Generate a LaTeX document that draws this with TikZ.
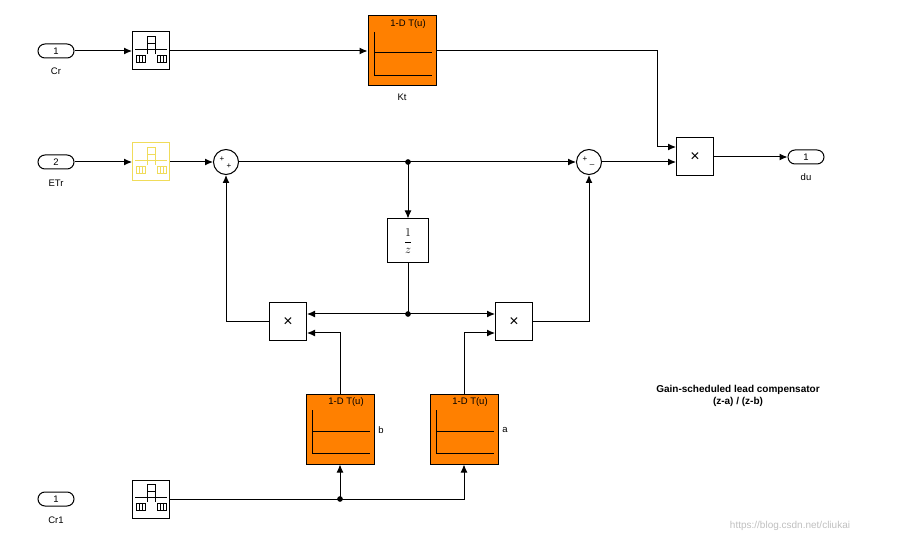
\documentclass[tikz,border=0pt]{standalone}
\usepackage{fontspec}
\setmainfont{Liberation Sans}
\usetikzlibrary{arrows.meta,calc}
\definecolor{lut}{RGB}{255,128,0}
\definecolor{yel}{RGB}{240,220,90}
\begin{document}
\begin{tikzpicture}[x=1pt,y=-1pt,font=\fontsize{9.5}{11}\selectfont,
  line width=1pt,
  sig/.style={-{Latex[length=8pt,width=7pt]}},
  port/.style={draw,rounded corners=7pt,minimum width=36pt,minimum height=14pt,inner sep=0pt,fill=white},
  blk/.style={draw,fill=white,minimum width=37pt,minimum height=38pt,inner sep=0pt},
  prod/.style={draw,fill=white,minimum width=37pt,minimum height=38pt,inner sep=0pt,font=\fontsize{16}{16}\selectfont},
  lutb/.style={draw,fill=lut,minimum width=68pt,minimum height=70pt,inner sep=0pt},
  sumb/.style={draw,circle,fill=white,minimum size=25pt,inner sep=0pt},
  sg/.style={font=\fontsize{8}{8}\selectfont,inner sep=0pt},
  dot/.style={circle,fill,inner sep=2pt}]
\useasboundingbox (0,0) rectangle (900,545);
\newcommand{\preicon}[2]{%
  \draw[#2,line width=0.8pt] ($(#1)+(-4,-15)$) rectangle ($(#1)+(4,-8)$);
  \draw[#2,line width=0.8pt] ($(#1)+(-16,-2)$) -- ($(#1)+(16,-2)$);
  \draw[#2,line width=0.5pt] ($(#1)+(-4,-8)$) -- ($(#1)+(-4,3)$) ($(#1)+(4,-8)$) -- ($(#1)+(4,3)$);
  \foreach \dx in {-15,-12,-9, 6,9,12}{\draw[#2,line width=0.8pt] ($(#1)+(\dx,4)$) rectangle ($(#1)+(\dx+3,11)$);}}
\newcommand{\luticon}[1]{%
  \node[font=\fontsize{9.5}{10}\selectfont] at ($(#1)+(6,-27)$) {1-D T(u)};
  \draw[line width=0.5pt] ($(#1)+(-28,-19)$) -- ($(#1)+(-28,24)$) -- ($(#1)+(30,24)$);
  \draw[line width=1pt] ($(#1)+(-28,2)$) -- ($(#1)+(30,2)$);}
\node[port] (cr) at (56,51) {1};
\node at (56,71) {Cr};
\node[port] (etr) at (56,162) {2};
\node at (56,183) {ETr};
\node[port] (cr1) at (56,499) {1};
\node at (56,520) {Cr1};
\node[port] (du) at (806,157) {1};
\node at (806,177) {du};
\node[blk] (p1) at (151,51) {};
\node[blk,draw=yel] (p2) at (151,162) {};
\node[blk] (p3) at (151,499) {};
\preicon{p1}{black}
\preicon{p2}{yel}
\preicon{p3}{black}
\node[lutb] (kt) at (402,51) {};
\luticon{kt}
\node at (402,97) {Kt};
\node[lutb] (lb) at (340,429) {};
\luticon{lb}
\node at (381,430) {b};
\node[lutb] (la) at (464,429) {};
\luticon{la}
\node at (505,430) {a};
\node[prod] (m3) at (695,157) {×};
\node[prod] (m1) at (288,322) {×};
\node[prod] (m2) at (514,322) {×};
\node[draw,fill=white,minimum width=41pt,minimum height=44pt,inner sep=0pt,font=\fontsize{12}{14}\selectfont] (uz) at (408,241) {$\displaystyle\frac{1}{z}$};
\node[sumb] (s1) at (226,162) {};
\node[sg] at (222,159) {+};
\node[sg] at (229,166) {+};
\node[sumb] (s2) at (589,162) {};
\node[sg] at (585,159) {+};
\node[sg] at (592,164) {\_};
\coordinate (j1) at (408,162);
\coordinate (j2) at (408,314);
\coordinate (j3) at (340,499);
\node[dot] at (j1) {};
\node[dot] at (j2) {};
\node[dot] at (j3) {};
\draw[sig] (cr) -- (p1);
\draw[sig] (p1) -- (kt);
\draw[sig] (kt.east) -| (657,147) -- (m3.west |- 0,147);
\draw[sig] (etr) -- (p2);
\draw[sig] (p2) -- (s1);
\draw (s1) -- (j1);
\draw[sig] (j1) -- (s2);
\draw[sig] (s2.east) -- (m3.west |- s2);
\draw[sig] (m3) -- (du);
\draw[sig] (j1) -- (uz);
\draw (uz) -- (j2);
\draw[sig] (j2) -- (m1.east |- j2);
\draw[sig] (j2) -- (m2.west |- j2);
\draw[sig] (m1.west) -| (s1);
\draw[sig] (m2.east) -| (s2);
\draw[sig] (lb.north) |- (m1.east |- 0,333);
\draw[sig] (la.north) |- (m2.west |- 0,333);
\draw (p3) -- (j3);
\draw[sig] (j3) -- (lb);
\draw[sig] (j3) -| (la);
\node[font=\bfseries\fontsize{10}{12}\selectfont,align=center] (t) at (738,396) {Gain-scheduled lead compensator\\(z-a) / (z-b)};
\node[text=black!25,font=\fontsize{10}{12}\selectfont] (w) at (790,526) {https://blog.csdn.net/cliukai};
\end{tikzpicture}
\end{document}
